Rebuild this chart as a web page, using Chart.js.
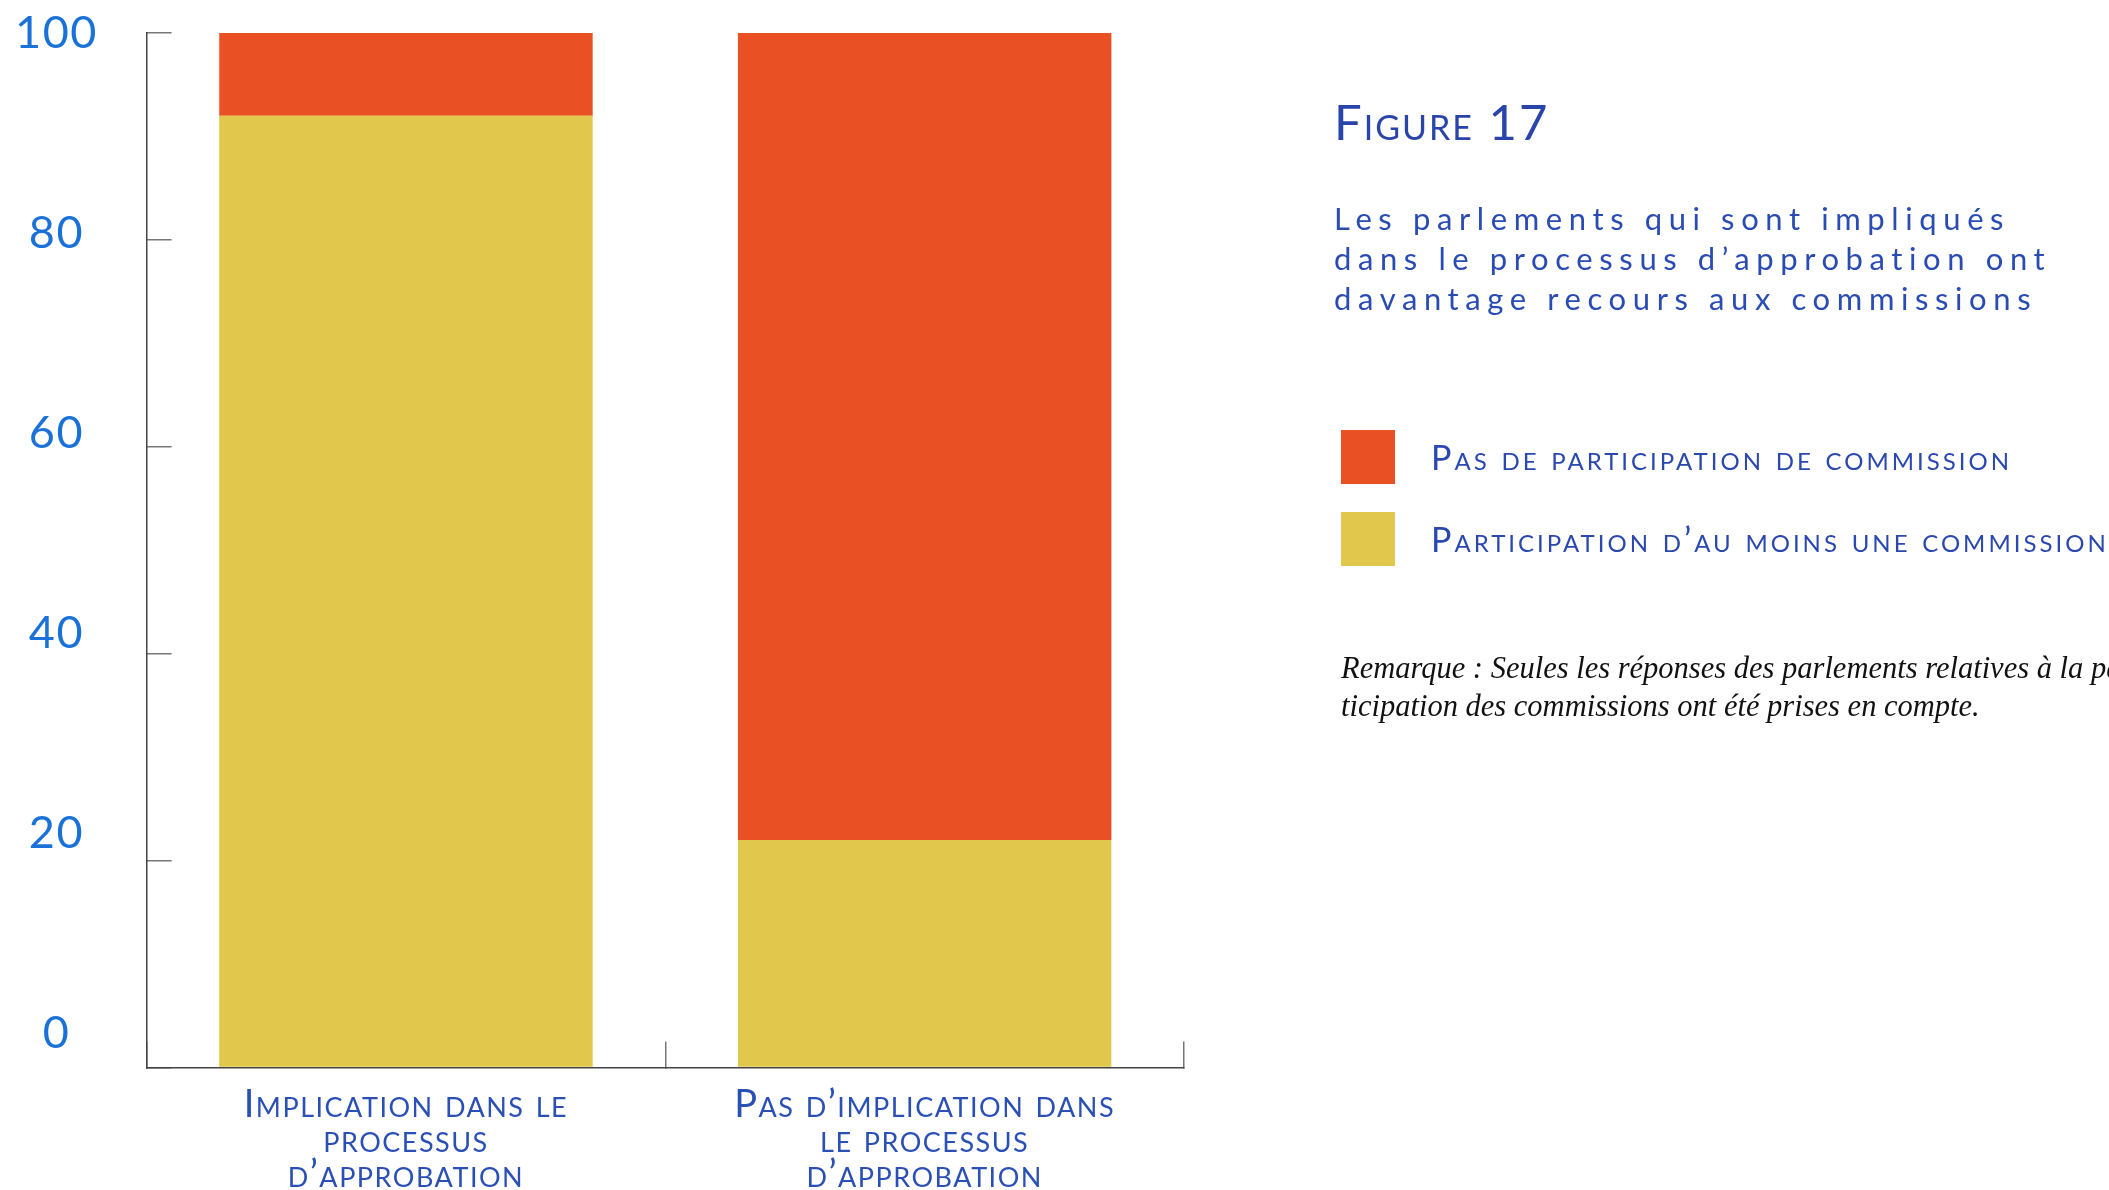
<!DOCTYPE html>
<html lang="fr">
<head>
<meta charset="utf-8">
<title>Figure 17</title>
<script src="https://cdn.jsdelivr.net/npm/chart.js@4.4.1/dist/chart.umd.min.js"></script>
<style>
  body { margin: 0; background: #fff; overflow: hidden; }
  #wrap { position: relative; width: 2109px; height: 1190px; overflow: hidden; }
  #wrap canvas { position: absolute; left: 0; top: 0; }
  .side { position: absolute; white-space: nowrap; font-family: Lato, "Open Sans", sans-serif; }
  #fig { left: 1334px; top: 92px; font-size: 49px; font-variant: small-caps; letter-spacing: 2px; color: #2a45aa; }
  #sub { left: 1334px; top: 198px; font-size: 31px; line-height: 40px; letter-spacing: 6.6px; color: #2a4cb2; }
  #legend { left: 1341px; top: 430px; }
  .item { position: relative; height: 82px; }
  .box { position: absolute; left: 0; top: 0; width: 54px; height: 54px; }
  .lab { position: absolute; left: 90px; top: 2px; line-height: 50px; font-size: 34px; font-variant: small-caps; letter-spacing: 3px; color: #2a48ae; }
  #note { left: 1341px; top: 650px; font-family: "Liberation Serif", "DejaVu Serif", serif; font-style: italic; font-size: 30.5px; line-height: 37.5px; color: #111; }
</style>
</head>
<body>
<div id="wrap">
  <canvas id="chart"></canvas>
  <div class="side" id="fig">Figure 17</div>
  <div class="side" id="sub">Les parlements qui sont impliqués<br>dans le processus d’approbation ont<br>davantage recours aux commissions</div>
  <div class="side" id="legend"></div>
  <div class="side" id="note">Remarque : Seules les réponses des parlements relatives à la par-<br>ticipation des commissions ont été prises en compte.</div>
</div>
<script>
// categories (one array of lines per bar)
const categories = [
  ["Implication dans le", "processus", "d’approbation"],
  ["Pas d’implication dans", "le processus", "d’approbation"],
];

// percentages
const avecCommission = [92, 22];
const sansCommission = [8, 78];

const seriesNames = [
  "Participation d’au moins une commission",
  "Pas de participation de commission",
];

const yTicks = [0, 20, 40, 60, 80, 100];

const orange = "#e95124";
const jaune = "#e1c74b";
const labelFont = "Lato, 'Open Sans', sans-serif";

// a bit of tracking on the canvas text (canvas resize resets it, so every draw)
const tracking = {
  id: "tracking",
  beforeDraw(chart) { chart.ctx.letterSpacing = "1.5px"; },
};

const chart = new Chart(document.getElementById("chart"), {
  type: "bar",
  data: {
    labels: categories,
    datasets: [
      { label: seriesNames[0], data: avecCommission, backgroundColor: jaune },
      { label: seriesNames[1], data: sansCommission, backgroundColor: orange },
    ],
  },
  options: {
    responsive: true,
    maintainAspectRatio: false,
    animation: false,
    layout: { padding: { left: 0, top: 33, right: 925, bottom: 0 } },
    datasets: { bar: { categoryPercentage: 0.72, barPercentage: 1 } },
    plugins: { legend: { display: false }, tooltip: { enabled: false } },
    scales: {
      x: {
        stacked: true,
        // negative tick length -> ticks point up into the plot
        grid: { drawOnChartArea: false, tickLength: -26, color: "#777", lineWidth: 1.5 },
        border: { color: "#444", width: 1.5 },
        ticks: {
          padding: 46,
          color: "#2b50b5",
          // "small-caps" goes into the canvas font string through weight
          font: { family: labelFont, weight: "small-caps", size: 38, lineHeight: 0.92 },
        },
        afterFit(scale) {
          scale.height = 122.5;
          scale.paddingLeft = 0;
          scale.paddingRight = 0;
        },
      },
      y: {
        stacked: true,
        min: 0,
        max: 100,
        afterBuildTicks(scale) { scale.ticks = yTicks.map((v) => ({ value: v })); },
        grid: { drawOnChartArea: false, tickLength: -25, color: "#777", lineWidth: 1.5 },
        border: { color: "#444", width: 1.5 },
        ticks: { display: false },
        afterFit(scale) {
          scale.width = 0;
          scale.paddingTop = 0;
          scale.paddingBottom = 0;
        },
      },
      // labels only: in the figure the numbers sit a bit above their ticks,
      // more so toward 0, so they get their own slightly stretched axis
      yLabels: {
        position: "left",
        weight: 1,
        min: -3.35,
        max: 100,
        afterBuildTicks(scale) { scale.ticks = yTicks.map((v) => ({ value: v })); },
        grid: { display: false, drawTicks: false },
        border: { display: false },
        ticks: {
          crossAlign: "center",
          padding: 51,
          color: "#1a72d8",
          font: { family: labelFont, size: 45 },
        },
        afterFit(scale) {
          scale.width = 146.6;
          scale.paddingTop = 0;
          scale.paddingBottom = 0;
        },
      },
    },
  },
  plugins: [tracking],
});

// legend on the right, built from the datasets (top series first)
const legendEl = document.getElementById("legend");
chart.data.datasets.slice().reverse().forEach((ds) => {
  const item = document.createElement("div");
  item.className = "item";
  item.innerHTML = '<div class="box" style="background:' + ds.backgroundColor + '"></div>' +
    '<div class="lab">' + ds.label + "</div>";
  legendEl.appendChild(item);
});
</script>
</body>
</html>
